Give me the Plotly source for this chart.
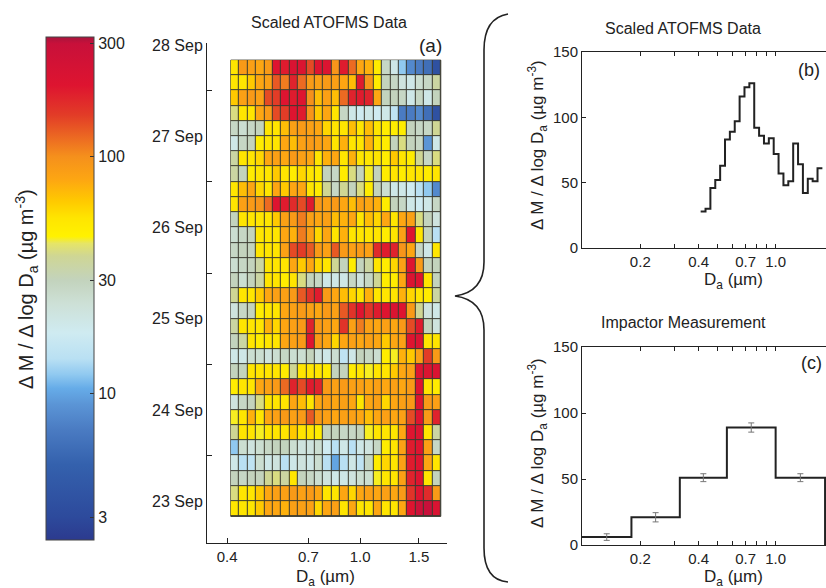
import numpy as np
import pandas as pd
import plotly.graph_objects as go

W, H = 826, 588

# ---------------- data ----------------
# ATOFMS aerodynamic-diameter bin edges (um)
size_edges = [0.4100, 0.4344, 0.4603, 0.4878, 0.5169, 0.5477, 0.5803, 0.6149,
              0.6516, 0.6904, 0.7316, 0.7752, 0.8214, 0.8704, 0.9223, 0.9772,
              1.0355, 1.0972, 1.1626, 1.2319, 1.3053, 1.3831, 1.4656, 1.5529,
              1.6455, 1.7436]

# 4-hour sampling periods
time_edges = pd.date_range("2004-09-22 20:00", periods=31, freq="4h")
day_ticks = pd.date_range("2004-09-23", "2004-09-28", freq="D")
noon_ticks = pd.date_range("2004-09-22 12:00", periods=6, freq="D")

# dM/dlogDa (ug m-3), one row per period, latest period first
mass_grid = [
    [55, 90, 85, 80, 90, 200, 190, 220, 210, 140, 200, 210, 95, 190, 120, 80, 75, 50, 28, 20, 12, 8, 7, 6, 3.5],
    [55, 55, 65, 80, 85, 130, 110, 180, 120, 90, 85, 90, 85, 80, 70, 190, 95, 50, 30, 28, 22, 20, 25, 28, 35],
    [65, 85, 90, 85, 140, 150, 200, 190, 200, 100, 70, 85, 70, 120, 180, 190, 180, 80, 30, 30, 28, 20, 28, 20, 30],
    [40, 55, 55, 80, 90, 140, 150, 200, 190, 95, 65, 80, 55, 28, 20, 18, 20, 18, 20, 15, 7, 7, 8, 6, 3.5],
    [28, 25, 28, 30, 55, 55, 70, 85, 90, 85, 80, 60, 55, 55, 70, 55, 70, 55, 50, 50, 50, 30, 28, 28, 38],
    [20, 28, 30, 50, 55, 55, 80, 70, 85, 90, 85, 80, 55, 75, 55, 55, 75, 55, 50, 30, 40, 30, 28, 9, 20],
    [35, 55, 55, 60, 80, 85, 80, 90, 85, 80, 55, 75, 80, 55, 75, 55, 55, 55, 50, 65, 55, 50, 38, 28, 40],
    [35, 30, 50, 55, 55, 65, 55, 50, 60, 55, 50, 30, 28, 50, 40, 30, 45, 30, 50, 55, 50, 55, 55, 50, 55],
    [55, 70, 80, 60, 55, 80, 65, 80, 80, 55, 50, 38, 28, 38, 30, 40, 50, 30, 25, 20, 20, 18, 14, 12, 8],
    [55, 85, 90, 95, 120, 200, 190, 170, 140, 190, 90, 85, 90, 80, 70, 85, 80, 75, 50, 30, 28, 20, 18, 20, 28],
    [30, 55, 55, 55, 55, 65, 85, 90, 110, 85, 80, 85, 70, 75, 80, 55, 70, 60, 80, 55, 80, 85, 40, 30, 22],
    [25, 28, 30, 55, 55, 55, 80, 75, 110, 85, 60, 80, 55, 75, 55, 55, 55, 55, 50, 55, 85, 200, 55, 30, 14],
    [28, 30, 30, 55, 55, 55, 85, 140, 150, 130, 90, 85, 130, 90, 85, 90, 85, 170, 190, 180, 95, 80, 28, 20, 55],
    [25, 28, 30, 35, 55, 55, 55, 80, 65, 80, 60, 55, 38, 30, 50, 30, 35, 55, 50, 60, 85, 200, 90, 30, 30],
    [30, 25, 30, 35, 55, 55, 50, 55, 40, 30, 28, 20, 20, 20, 28, 22, 28, 38, 50, 50, 80, 210, 200, 55, 30],
    [38, 55, 55, 65, 80, 85, 85, 90, 130, 160, 190, 90, 80, 70, 60, 55, 75, 55, 55, 55, 75, 60, 55, 50, 35],
    [22, 28, 30, 50, 55, 55, 80, 85, 90, 85, 80, 90, 85, 130, 160, 200, 160, 190, 200, 210, 200, 90, 38, 22, 20],
    [35, 55, 55, 55, 75, 60, 80, 85, 90, 180, 90, 85, 80, 160, 85, 110, 85, 80, 85, 80, 90, 140, 190, 30, 22],
    [30, 35, 55, 50, 55, 55, 80, 85, 90, 200, 90, 80, 60, 80, 85, 80, 85, 80, 65, 80, 85, 200, 210, 55, 55],
    [20, 20, 25, 25, 22, 25, 28, 25, 25, 30, 22, 20, 25, 15, 20, 30, 28, 25, 50, 45, 75, 65, 85, 150, 90],
    [30, 30, 55, 55, 55, 55, 50, 38, 55, 55, 55, 50, 30, 30, 50, 55, 45, 55, 55, 65, 80, 85, 200, 210, 220],
    [50, 55, 55, 80, 85, 90, 120, 180, 140, 190, 180, 90, 85, 90, 85, 85, 80, 85, 80, 85, 80, 90, 200, 55, 50],
    [22, 28, 30, 40, 55, 55, 55, 80, 70, 55, 80, 85, 80, 85, 80, 55, 80, 85, 60, 80, 85, 90, 200, 90, 85],
    [45, 55, 75, 55, 80, 85, 90, 85, 90, 130, 90, 85, 80, 85, 85, 80, 70, 80, 85, 80, 85, 140, 200, 90, 180],
    [38, 55, 55, 45, 55, 55, 55, 65, 55, 55, 50, 30, 30, 28, 28, 30, 45, 55, 55, 55, 80, 200, 210, 55, 35],
    [12, 25, 22, 25, 28, 30, 30, 25, 22, 22, 25, 18, 14, 20, 14, 20, 22, 28, 50, 55, 85, 190, 200, 85, 28],
    [20, 14, 15, 25, 20, 22, 14, 20, 22, 20, 25, 14, 10, 14, 20, 15, 28, 50, 60, 55, 85, 190, 200, 80, 55],
    [30, 28, 30, 30, 38, 40, 35, 55, 30, 28, 25, 22, 20, 20, 22, 25, 25, 45, 55, 55, 85, 180, 200, 55, 30],
    [40, 55, 55, 65, 80, 85, 85, 90, 85, 90, 80, 55, 55, 80, 60, 80, 85, 80, 85, 80, 90, 160, 200, 170, 90],
    [55, 55, 55, 65, 80, 80, 75, 85, 85, 85, 60, 80, 85, 55, 80, 55, 55, 80, 55, 55, 80, 200, 280, 300, 220],
]

# campaign-mean scaled ATOFMS distribution (ug m-3)
atofms_mean = [28, 30, 46, 52, 63, 83, 89, 97, 116, 123, 126, 92, 86, 80, 84,
               72, 57, 48, 51, 80, 64, 42, 53, 51, 61]

# MOUDI impactor stages
imp_edges = [0.10, 0.18, 0.32, 0.56, 1.0, 1.8]
imp_mass = [6, 21, 51, 89, 51]
imp_err = [2.5, 3.5, 3.0, 3.5, 3.0]

cbar_ticks = [3, 10, 30, 100, 300]
size_ticks_a = [0.4, 0.7, 1.0, 1.5]
size_ticks_bc = [0.2, 0.3, 0.4, 0.5, 0.6, 0.7, 0.8, 0.9, 1.0]
size_labels_bc = ["0.2", "", "0.4", "", "", "0.7", "", "", "1.0"]
mass_ticks = [0, 50, 100, 150]

# ---------------- colour map ----------------
ZMIN, ZMAX = np.log10(2.4), np.log10(320)
color_stops = [
    (2.4, "#2c3a8e"), (3, "#2d4a9c"), (5, "#3461ad"), (7, "#4a7bc2"),
    (9, "#5b95d6"), (10.5, "#66ace8"), (12, "#90c9f0"), (14, "#b9e0f3"),
    (18, "#cfebf1"), (24, "#cde0d6"), (30, "#c3d3bd"), (38, "#cfd694"),
    (43, "#e6e566"), (46, "#fff200"), (55, "#ffe500"), (65, "#ffc900"),
    (80, "#fda612"), (100, "#f5901c"), (120, "#ec6a22"), (150, "#e23c27"),
    (200, "#de1430"), (300, "#c8103a"), (320, "#a8143c"),
]
colorscale = []
for v, c in color_stops:
    pos = (np.log10(v) - ZMIN) / (ZMAX - ZMIN)
    colorscale.append([float(min(max(pos, 0.0), 1.0)), c])
colorscale[0][0] = 0.0
colorscale[-1][0] = 1.0

INK = "#222222"


def px(x):
    return x / W


def py(y):
    return 1 - y / H


fig = go.Figure()

# (a) size-resolved time series
fig.add_trace(go.Heatmap(
    x=size_edges, y=time_edges,
    z=np.log10(np.array(mass_grid[::-1], dtype=float)),
    zmin=ZMIN, zmax=ZMAX, colorscale=colorscale,
    xgap=1, ygap=1, xaxis="x", yaxis="y",
    colorbar=dict(
        x=px(46), xanchor="left", xpad=0,
        y=py(37), yanchor="top", ypad=0,
        len=503, lenmode="pixels", thickness=48, thicknessmode="pixels",
        tickvals=np.log10(cbar_ticks), ticktext=[str(v) for v in cbar_ticks],
        ticks="inside", ticklen=4, tickcolor="#333",
        outlinewidth=1, outlinecolor="#444",
        tickfont=dict(size=16, color=INK),
    ),
    hoverinfo="skip",
))

# (b) mean ATOFMS distribution
fig.add_trace(go.Scatter(
    x=size_edges, y=atofms_mean + [atofms_mean[-1]],
    mode="lines", line=dict(shape="hv", color=INK, width=2),
    xaxis="x2", yaxis="y2", hoverinfo="skip",
))

# (c) impactor distribution with uncertainties
imp_mid = list(np.sqrt(np.array(imp_edges[:-1]) * np.array(imp_edges[1:])))
fig.add_trace(go.Scatter(
    x=imp_edges, y=imp_mass + [0],
    mode="lines", line=dict(shape="hv", color=INK, width=2),
    xaxis="x3", yaxis="y3", hoverinfo="skip",
))
fig.add_trace(go.Scatter(
    x=imp_mid, y=imp_mass, mode="markers",
    marker=dict(size=1, color="rgba(0,0,0,0)"),
    error_y=dict(type="data", array=imp_err, color="#777", thickness=1, width=3),
    xaxis="x3", yaxis="y3", hoverinfo="skip",
))

axis_common = dict(showline=True, linecolor=INK, linewidth=1, showgrid=False,
                   zeroline=False, tickcolor=INK, tickfont=dict(size=15, color=INK))

fig.update_layout(
    width=W, height=H,
    margin=dict(l=0, r=0, t=0, b=0, autoexpand=False),
    paper_bgcolor="white", plot_bgcolor="white",
    showlegend=False,
    font=dict(family="Liberation Sans, Arial, sans-serif", size=15, color=INK),
    xaxis=dict(axis_common, domain=[px(207), px(447)], anchor="y", type="log",
               range=[np.log10(0.348), np.log10(1.82)],
               tickmode="array", tickvals=size_ticks_a,
               ticktext=["0.4", "0.7", "1.0", "1.5"],
               ticks="inside", ticklen=5),
    yaxis=dict(axis_common, domain=[py(543), py(43)], anchor="x", type="date",
               range=["2004-09-22 13:00", "2004-09-28 00:30"],
               tickmode="array", tickvals=day_ticks, tickformat="%d %b",
               tickfont=dict(size=16, color=INK),
               ticks="inside", ticklen=0,
               minor=dict(tickmode="array", tickvals=noon_ticks, ticks="inside",
                          ticklen=5, tickcolor=INK)),
    xaxis2=dict(axis_common, domain=[px(582), 1.0], anchor="y2", type="log",
                range=[-1, np.log10(1.82)], tickmode="array",
                tickvals=size_ticks_bc, ticktext=size_labels_bc,
                ticks="inside", ticklen=4, mirror="ticks"),
    yaxis2=dict(axis_common, domain=[py(248), py(52)], anchor="x2",
                range=[0, 150], tickmode="array", tickvals=mass_ticks,
                ticks="inside", ticklen=4),
    xaxis3=dict(axis_common, domain=[px(582), 1.0], anchor="y3", type="log",
                range=[-1, np.log10(1.82)], tickmode="array",
                tickvals=size_ticks_bc, ticktext=size_labels_bc,
                ticks="inside", ticklen=4, mirror="ticks"),
    yaxis3=dict(axis_common, domain=[py(545), py(347)], anchor="x3",
                range=[0, 150], tickmode="array", tickvals=mass_ticks,
                ticks="inside", ticklen=4),
)

# dark backing so the heatmap gaps read as cell outlines
fig.add_shape(type="rect", xref="x", yref="y", layer="below",
              x0=size_edges[0], x1=size_edges[-1],
              y0=time_edges[0], y1=time_edges[-1],
              fillcolor="#3b3b30", line=dict(color="#3b3b30", width=1))

# curly brace linking (a) to (b) and (c)
brace_pts = [("M", 508, 14), ("Q", 484, 18), ("", 484, 50), ("L", 484, 262),
             ("Q", 484, 292), ("", 455, 296), ("Q", 484, 300), ("", 484, 330),
             ("L", 484, 548), ("Q", 484, 580), ("", 508, 582)]
path = " ".join(f"{cmd} {px(x):.5f},{py(y):.5f}" if cmd else f"{px(x):.5f},{py(y):.5f}"
                for cmd, x, y in brace_pts)
fig.add_shape(type="path", xref="paper", yref="paper", path=path,
              line=dict(color=INK, width=1.6))

ytitle = "\u0394 M / \u0394 log D<sub>a</sub> (\u00b5g m<sup>-3</sup>)"
xtitle = "D<sub>a</sub> (\u00b5m)"


def label(text, x, y, size=15, angle=0, xanchor="center"):
    return dict(text=text, x=px(x), y=py(y), xref="paper", yref="paper",
                showarrow=False, textangle=angle, xanchor=xanchor,
                yanchor="middle", font=dict(size=size, color=INK))


fig.update_layout(annotations=[
    label("Scaled ATOFMS Data", 329, 22, size=16),
    label("(a)", 430, 45, size=19),
    label("Scaled ATOFMS Data", 683, 28, size=16),
    label("(b)", 809, 70, size=18),
    label("Impactor Measurement", 683, 322, size=16),
    label("(c)", 811, 363, size=18),
    label(xtitle, 325, 578, size=17),
    label(xtitle, 733, 281, size=17),
    label(xtitle, 733, 578, size=17),
    label(ytitle, 27, 289, size=20, angle=-90),
    label(ytitle, 537, 145, size=17, angle=-90),
    label(ytitle, 537, 443, size=17, angle=-90),
])

fig.write_html("out.html")
